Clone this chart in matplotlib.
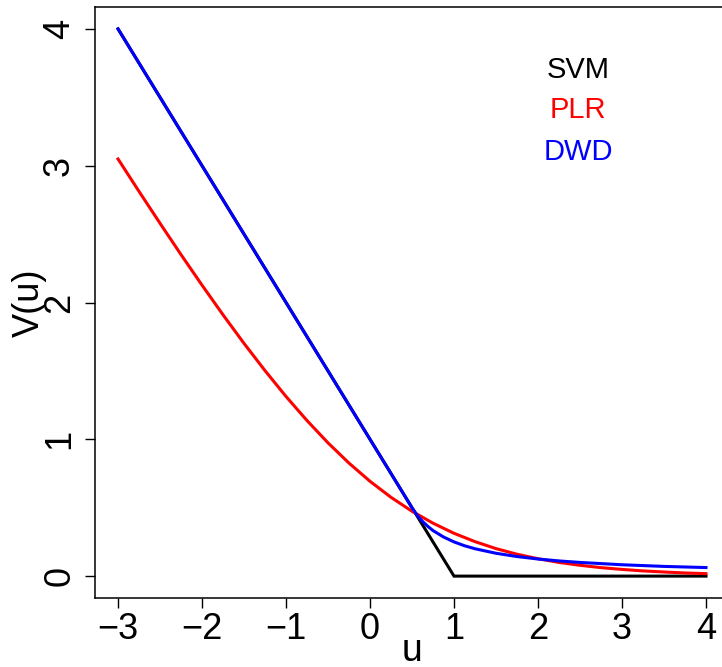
import matplotlib
matplotlib.use("Agg")
import matplotlib.pyplot as plt

plt.rcParams['font.family'] = ['Liberation Sans', 'DejaVu Sans']

# SVM (hinge) loss
svm_u = [-3, 1, 4]
svm_v = [4.0, 0.0, 0.0]

# PLR loss
plr_u = [-3, -2.75, -2.5, -2.25, -2, -1.75, -1.5, -1.25, -1, -0.75, -0.5, -0.25,
         0, 0.25, 0.5, 0.75, 1, 1.25, 1.5, 1.75, 2, 2.25, 2.5, 2.75, 3, 3.25, 3.5, 3.75, 4]
plr_v = [3.049, 2.812, 2.579, 2.350, 2.127, 1.910, 1.701, 1.502, 1.313, 1.137, 0.974, 0.826,
         0.693, 0.576, 0.474, 0.387, 0.313, 0.252, 0.201, 0.160, 0.127, 0.100, 0.079, 0.062,
         0.049, 0.038, 0.030, 0.023, 0.018]

# DWD loss
dwd_u = [-3, 0.5, 0.5625, 0.625, 0.6875, 0.75, 0.875, 1, 1.125, 1.25, 1.5, 1.75, 2, 2.25, 2.5, 3, 3.5, 4]
dwd_v = [4.0, 0.5, 0.444, 0.4, 0.364, 0.333, 0.286, 0.25, 0.222, 0.2, 0.167, 0.143, 0.125,
         0.111, 0.1, 0.083, 0.071, 0.0625]

legend_labels = ["SVM", "PLR", "DWD"]
legend_colors = ["black", "red", "blue"]

xticks = [-3, -2, -1, 0, 1, 2, 3, 4]
yticks = [0, 1, 2, 3, 4]

W, H = 722, 667
fig = plt.figure(figsize=(W / 100, H / 100), dpi=100)
ax = fig.add_axes([94.5 / W, 69 / H, 635 / W, 591 / H])

lw = 2.2
ax.plot(svm_u, svm_v, color="black", lw=lw, solid_joinstyle="miter")
ax.plot(plr_u, plr_v, color="red", lw=lw)
ax.plot(dwd_u, dwd_v, color="blue", lw=lw)

ax.set_xlim(-3.28, 4.28)
ax.set_ylim(-0.16, 4.16)
ax.set_xticks(xticks)
ax.set_yticks(yticks)
ax.set_xticklabels([("\u2212" + str(-t)) if t < 0 else str(t) for t in xticks], fontsize=26)
ax.set_yticklabels([str(t) for t in yticks], fontsize=26, rotation=90, va="center")
ax.tick_params(axis="both", direction="out", length=7, width=1.0)
ax.tick_params(axis="x", pad=3)
ax.tick_params(axis="y", pad=5.5)
for s in ax.spines.values():
    s.set_linewidth(1.1)

ax.set_xlabel("u", fontsize=27, va="baseline")
ax.xaxis.set_label_coords(0.5, (598 - 661) / 591)
ax.set_ylabel("V(u)", fontsize=26)
ax.yaxis.set_label_coords((12 - 94.5) / 635, 0.5)
ax.yaxis.label.set_va("top")

ys = [3.70, 3.41, 3.10]
for lab, col, y in zip(legend_labels, legend_colors, ys):
    ax.text(2.476, y, lab, color=col, fontsize=21, ha="center", va="center")

fig.savefig("out.png", dpi=100)
